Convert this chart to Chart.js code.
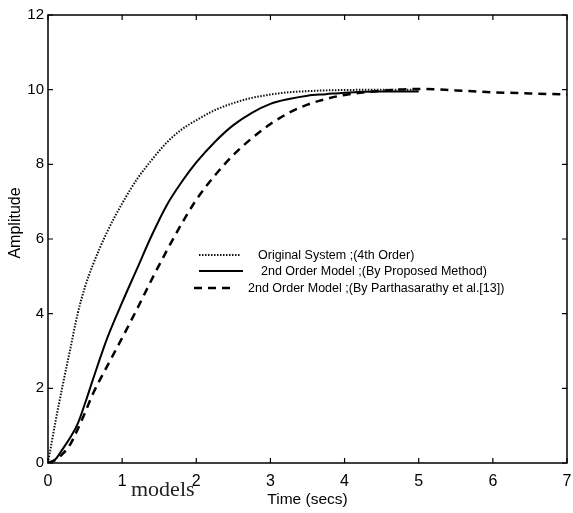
<!DOCTYPE html>
<html>
<head>
<meta charset="utf-8">
<script src="https://cdn.jsdelivr.net/npm/chart.js@4/dist/chart.umd.min.js"></script>
<style>
  body { margin: 0; background: #fff; }
  #wrap { width: 573px; height: 513px; }
</style>
</head>
<body>
<div id="wrap"><canvas id="myChart" width="573" height="513"></canvas></div>
<script>
// step response values
const timeSecs = [0, 0.1, 0.2, 0.3, 0.4, 0.5, 0.6, 0.8, 1.0, 1.2, 1.4, 1.6, 1.8, 2.0, 2.25, 2.5, 2.75, 3.0, 3.25, 3.5, 3.75, 4.0, 4.5, 5.0, 5.5, 6.0, 6.5, 7.0]
const originalSystem = [0, 1.1, 2.1, 3.05, 4.0, 4.72, 5.28, 6.2, 6.95, 7.6, 8.12, 8.58, 8.93, 9.18, 9.45, 9.64, 9.78, 9.87, 9.93, 9.96, 9.98, 9.99, 10, 10, null, null, null, null]
const proposedModel = [0, 0.1, 0.38, 0.68, 1.05, 1.6, 2.2, 3.35, 4.3, 5.2, 6.1, 6.9, 7.52, 8.05, 8.6, 9.05, 9.38, 9.62, 9.75, 9.84, 9.88, 9.92, 9.95, 9.95, null, null, null, null]
const parthasarathyModel = [0, 0.08, 0.25, 0.5, 0.9, 1.35, 1.83, 2.6, 3.35, 4.12, 4.92, 5.68, 6.4, 7.05, 7.7, 8.25, 8.7, 9.08, 9.38, 9.6, 9.75, 9.86, 9.97, 10.02, 9.98, 9.93, 9.9, 9.87]

const xTicks = [0, 1, 2, 3, 4, 5, 6, 7]
const yTicks = [0, 2, 4, 6, 8, 10, 12]

const seriesNames = [
  'Original System ;(4th Order)',
  '2nd Order Model ;(By Proposed Method)',
  '2nd Order Model ;(By Parthasarathy et al.[13])'
]

const toPoints = (vals) => timeSecs.map((t, i) => ({ x: t, y: vals[i] })).filter(p => p.y !== null)

const font = '"Liberation Sans", Arial, sans-serif'

const styles = [
  { dash: [1.5, 1.5], width: 2, color: '#111' },
  { dash: [], width: 2, color: '#000' },
  { dash: [8, 6], width: 2.5, color: '#000' }
]

// frame, inward ticks, legend inside the plot, y title, stray scanned word
const decorations = {
  id: 'decorations',
  afterDraw(chart) {
    const { ctx, chartArea: a, scales } = chart
    ctx.save()
    ctx.strokeStyle = '#000'
    ctx.lineWidth = 1.5
    ctx.strokeRect(a.left, a.top, a.right - a.left, a.bottom - a.top)

    ctx.lineWidth = 1.2
    ctx.beginPath()
    xTicks.forEach(v => {
      const x = scales.x.getPixelForValue(v)
      ctx.moveTo(x, a.bottom); ctx.lineTo(x, a.bottom - 5)
      ctx.moveTo(x, a.top); ctx.lineTo(x, a.top + 5)
    })
    yTicks.forEach(v => {
      const y = scales.y.getPixelForValue(v)
      ctx.moveTo(a.left, y); ctx.lineTo(a.left + 5, y)
      ctx.moveTo(a.right, y); ctx.lineTo(a.right - 5, y)
    })
    ctx.stroke()

    // legend
    const rows = [
      { y: 255, x0: 199, x1: 240, tx: 258 },
      { y: 271, x0: 199, x1: 243, tx: 261 },
      { y: 288, x0: 194, x1: 236, tx: 248 }
    ]
    ctx.font = '12.5px ' + font
    ctx.textBaseline = 'middle'
    ctx.fillStyle = '#000'
    rows.forEach((r, i) => {
      const s = styles[i]
      ctx.setLineDash(s.dash)
      ctx.lineWidth = s.width
      ctx.strokeStyle = s.color
      ctx.beginPath()
      ctx.moveTo(r.x0, r.y); ctx.lineTo(r.x1, r.y)
      ctx.stroke()
      ctx.setLineDash([])
      ctx.fillText(seriesNames[i], r.tx, r.y + 1)
    })

    // y axis title sits a bit above the middle in the scan
    ctx.translate(16, 223)
    ctx.rotate(-Math.PI / 2)
    ctx.textAlign = 'center'
    ctx.font = '16px ' + font
    ctx.fillText('Amplitude', 0, 0)
    ctx.setTransform(1, 0, 0, 1, 0, 0)

    ctx.textAlign = 'left'
    ctx.font = '22px "Liberation Serif", "Times New Roman", serif'
    ctx.textBaseline = 'alphabetic'
    ctx.fillStyle = '#222'
    ctx.fillText('models', 131, 496)
    ctx.restore()
  }
}

const ctx = document.getElementById('myChart')

new Chart(ctx, {
  type: 'line',
  data: {
    datasets: [originalSystem, proposedModel, parthasarathyModel].map((vals, i) => ({
      label: seriesNames[i],
      data: toPoints(vals),
      borderColor: styles[i].color,
      borderWidth: styles[i].width,
      borderDash: styles[i].dash,
      pointRadius: 0,
      cubicInterpolationMode: 'monotone',
      fill: false
    }))
  },
  options: {
    responsive: false,
    animation: false,
    layout: { padding: { top: 15, right: 0, left: 0, bottom: 0 } },
    plugins: {
      legend: { display: false },
      tooltip: { enabled: false }
    },
    scales: {
      x: {
        type: 'linear',
        min: 0,
        max: 7,
        afterBuildTicks: (s) => { s.ticks = xTicks.map(v => ({ value: v })) },
        afterFit: (s) => { s.height = 50; s.paddingRight = 6 },
        grid: { display: false, drawTicks: false },
        border: { display: false },
        ticks: { color: '#000', font: { size: 16, family: font }, padding: 9, maxRotation: 0 },
        title: { display: true, text: 'Time (secs)', color: '#000', font: { size: 15.5, family: font }, padding: { top: 0, bottom: 4 } }
      },
      y: {
        min: 0,
        max: 12,
        afterBuildTicks: (s) => { s.ticks = yTicks.map(v => ({ value: v })) },
        afterFit: (s) => { s.width = 48 },
        grid: { display: false, drawTicks: false },
        border: { display: false },
        ticks: { color: '#000', font: { size: 15, family: font }, padding: 4 }
      }
    }
  },
  plugins: [decorations]
})
</script>
</body>
</html>
